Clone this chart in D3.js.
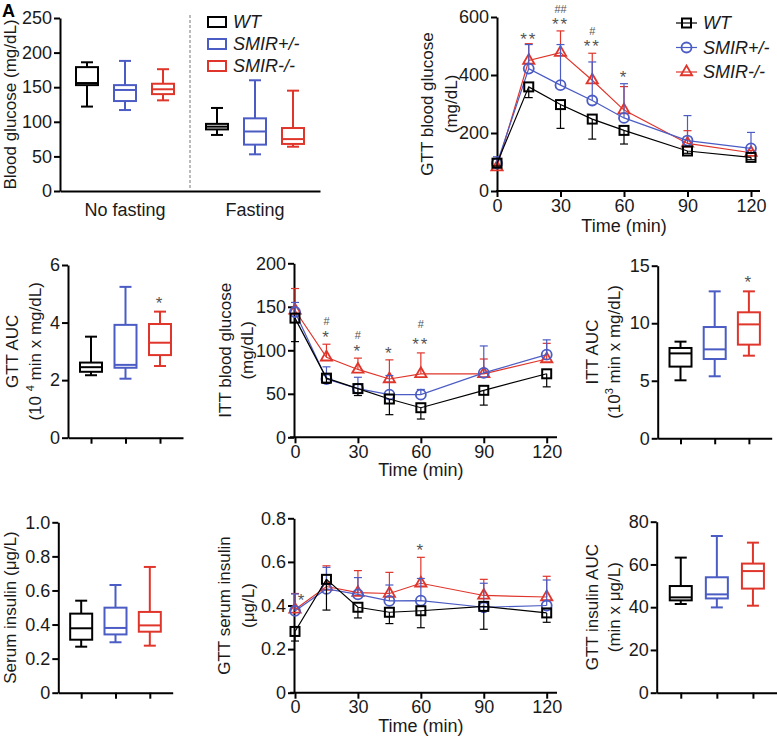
<!DOCTYPE html>
<html><head><meta charset="utf-8">
<script src="https://cdn.jsdelivr.net/npm/d3@7"></script>
<style>body{margin:0;background:#fff}</style>
</head><body><svg id="c" width="777" height="740"></svg>
<script>
// ---------------- DATA ----------------
const groups = ["WT", "SMIR+/-", "SMIR-/-"];
const conditions = ["No fasting", "Fasting"];
// box stats: [min, q1, median, q3, max]
const glucoseNoFasting = [[122,153,156,179,186],[117,130,146,153,188],[131,140,147,155,176]];
const glucoseFasting   = [[81,89,93,97,120],[53,67,86,105,160],[64,68,75,91,145]];
const gttAUC = [[2.17,2.29,2.45,2.61,3.51],[2.05,2.43,2.53,3.92,5.24],[2.49,2.87,3.30,3.95,4.38]];
const ittAUC = [[5.04,6.23,7.38,7.85,8.4],[5.39,6.89,7.73,9.67,12.77],[7.18,8.14,9.9,10.95,12.77]];
const serumInsulin = [[0.27,0.311,0.378,0.464,0.54],[0.296,0.342,0.38,0.499,0.632],[0.276,0.358,0.395,0.474,0.738]];
const insulinAUC = [[41.5,43.2,44.6,49.9,63.2],[39.9,44.1,46,54,73.3],[40.7,48.7,56.9,60.4,70.2]];

const timePoints = [0,15,30,45,60,90,120];
const timeTicks = [0,30,60,90,120];
// GTT blood glucose (mg/dL)
const gttWT  = [96,359,298,248,209,138,116];
const gttHet = [95,422,365,312,252,174,147];
const gttKO  = [82,450,477,382,279,164,132];
const gttWTerr  = [10,37,82,69,47,8,8];
const gttHetErr = [23,83,140,133,118,86,55];
const gttKOerr  = [5,58,75,93,81,44,8];
// ITT blood glucose (mg/dL)
const ittWT  = [137,68,56,44,34,54,73];
const ittHet = [144,67,56,49,49,74,95];
const ittKO  = [146,92,78,67,73,73,90];
const ittWTerr  = [27,6,8,18,13,17,15];
const ittHetErr = [11,14,13,22,6,31,17];
const ittKOerr  = [25,15,13,22,24,17,18];
// GTT serum insulin (ug/L)
const insWT  = [0.281,0.52,0.392,0.369,0.376,0.396,0.366];
const insHet = [0.375,0.476,0.451,0.421,0.422,0.392,0.40];
const insKO  = [0.382,0.487,0.459,0.455,0.502,0.446,0.439];
const insWTerr  = [0.044,0.141,0.049,0.052,0.078,0.105,0.043];
const insHetErr = [0.078,0.099,0.077,0.073,0.102,0.11,0.117];
const insKOerr  = [0.073,0.095,0.101,0.097,0.119,0.074,0.095];

// significance marks: time, label, value (center of mark, data units)
const gttMarks = [{t:15,s:"**",v:537},{t:30,s:"##",v:626},{t:30,s:"**",v:588},{t:45,s:"#",v:550},{t:45,s:"**",v:513},{t:60,s:"*",v:406}];
const ittMarks = [{t:15,s:"#",v:134},{t:15,s:"*",v:119},{t:30,s:"#",v:117},{t:30,s:"*",v:104},{t:45,s:"*",v:101},{t:60,s:"#",v:130},{t:60,s:"**",v:112}];
const insMarks = [{t:0,s:"*",v:0.444,dx:7},{t:60,s:"*",v:0.67}];

const glucoseTicks = [0,50,100,150,200,250];
const gttTicks = [0,200,400,600];
const gttAUCTicks = [0,2,4,6];
const ittTicks = [0,50,100,150,200];
const ittAUCTicks = [0,5,10,15];
const insulinTicks = [0,0.2,0.4,0.6,0.8,1.0];
const gttInsTicks = [0,0.2,0.4,0.6,0.8];
const insAUCTicks = [0,20,40,60,80];

// ---------------- STYLE ----------------
const FONT = "'Liberation Sans', Arial, Helvetica, sans-serif";
const FS = 17, TFS = 18;
const colors = ["#000000", "#4b5cc4", "#e0352b"];
const markGray = "#555";
const svg = d3.select("#c");

function styleAxis(g){
  g.attr("font-family", FONT).attr("font-size", TFS);
  g.selectAll(".domain").attr("stroke","#000").attr("stroke-width",2);
  g.selectAll(".tick line").attr("stroke","#000").attr("stroke-width",2);
  g.selectAll(".tick text").attr("fill","#1a1a1a");
}
const fmt1 = d => d === 0 ? "0" : d3.format(".1f")(d);

function yAxis(y, x0, ticks, f){
  const g = svg.append("g").attr("transform",`translate(${x0},0)`)
    .call(d3.axisLeft(y).tickValues(ticks).tickFormat(f || d3.format("d")).tickSize(6).tickSizeOuter(0).tickPadding(2));
  styleAxis(g);
  return g;
}
function yTitle(lines, cx, cy){
  lines.forEach((ln, i) => {
    const t = svg.append("text").attr("transform",`translate(${ln.x},${cy}) rotate(-90)`)
      .attr("text-anchor","middle").attr("font-family",FONT).attr("font-size",FS).attr("fill","#1a1a1a");
    ln.parts.forEach(p => {
      const s = t.append("tspan").text(p.text);
      if (p.sup) s.attr("font-size",11).attr("dy",-7);
      if (p.after) s.attr("dy",7);
    });
  });
}
function boxes(xPos, y, stats){
  const w = 22, cw = 12;
  stats.forEach((s,i) => {
    const cx = xPos(i);
    const g = svg.append("g").attr("stroke",colors[i]).attr("stroke-width",2).attr("fill","none");
    g.append("line").attr("x1",cx).attr("x2",cx).attr("y1",y(s[4])).attr("y2",y(s[3]));
    g.append("line").attr("x1",cx).attr("x2",cx).attr("y1",y(s[1])).attr("y2",y(s[0]));
    g.append("line").attr("x1",cx-cw/2).attr("x2",cx+cw/2).attr("y1",y(s[4])).attr("y2",y(s[4]));
    g.append("line").attr("x1",cx-cw/2).attr("x2",cx+cw/2).attr("y1",y(s[0])).attr("y2",y(s[0]));
    g.append("rect").attr("x",cx-w/2).attr("width",w).attr("y",y(s[3])).attr("height",y(s[1])-y(s[3]));
    g.append("line").attr("x1",cx-w/2).attr("x2",cx+w/2).attr("y1",y(s[2])).attr("y2",y(s[2]));
  });
}
function marker(g, i, cx, cy){
  const c = colors[i];
  if (i === 0) g.append("rect").attr("x",cx-4.5).attr("y",cy-4.5).attr("width",9).attr("height",9)
      .attr("fill","none").attr("stroke",c).attr("stroke-width",2);
  else if (i === 1) g.append("circle").attr("cx",cx).attr("cy",cy).attr("r",5)
      .attr("fill","none").attr("stroke",c).attr("stroke-width",1.8);
  else g.append("path").attr("d",d3.symbol(d3.symbolTriangle).size(55)()).attr("transform",`translate(${cx},${cy})`)
      .attr("fill","none").attr("stroke",c).attr("stroke-width",1.8);
}
function lineChart(x, y, series, errs){
  const order = [2,1,0];
  order.forEach(i => {
    const vals = series[i], e = errs[i], c = colors[i];
    const g = svg.append("g");
    const dir = i === 0 ? -1 : 1;
    vals.forEach((v,k) => {
      const cx = x(timePoints[k]), ye = y(v + dir*e[k]);
      g.append("line").attr("x1",cx).attr("x2",cx).attr("y1",y(v)).attr("y2",ye).attr("stroke",c).attr("stroke-width",1.2);
      g.append("line").attr("x1",cx-4).attr("x2",cx+4).attr("y1",ye).attr("y2",ye).attr("stroke",c).attr("stroke-width",1.2);
    });
    g.append("path").datum(vals).attr("fill","none").attr("stroke",c).attr("stroke-width",1.2)
      .attr("d", d3.line().x((d,k)=>x(timePoints[k])).y(d=>y(d)));
    vals.forEach((v,k) => marker(g, i, x(timePoints[k]), y(v)));
  });
}
function timeXAxis(x, y0, xStart, xEnd, titleOff){
  const g = svg.append("g").attr("transform",`translate(0,${y0})`)
    .call(d3.axisBottom(x).tickValues(timeTicks).tickFormat(d3.format("d")).tickSize(6).tickSizeOuter(0).tickPadding(2));
  styleAxis(g);
  g.select(".domain").remove();
  g.append("line").attr("x1",xStart).attr("x2",xEnd).attr("stroke","#000").attr("stroke-width",2);
  svg.append("text").attr("x",(x(0)+x(120))/2).attr("y",y0+titleOff).attr("text-anchor","middle")
    .attr("font-family",FONT).attr("font-size",TFS).attr("fill","#1a1a1a").text("Time (min)");
}
function catXAxis(xp, y0){
  const g = svg.append("g").attr("transform",`translate(0,${y0})`)
    .call(d3.axisBottom(xp).tickSize(6).tickSizeOuter(0).tickFormat(""));
  styleAxis(g);
}
function marks(x, y, list){
  list.forEach(m => {
    const isHash = m.s.includes("#");
    const fs = isHash ? 11 : 17;
    const off = isHash ? 0.36*fs : 0.57*fs;
    svg.append("text").attr("x", x(m.t) + (m.dx||0)).attr("y", y(m.v) + off)
      .attr("text-anchor","middle").attr("font-family",FONT).attr("font-size",fs)
      .attr("letter-spacing", isHash ? 0 : 2).attr("fill",markGray).text(m.s);
  });
}

// ---------------- Panel letter ----------------
svg.append("text").attr("x",2).attr("y",17).attr("font-family",FONT).attr("font-weight","bold").attr("font-size",18).text("A");

// ---------------- Panel 1: Blood glucose ----------------
{
  const y = d3.scaleLinear([0,250],[191,18]);
  const xb = d3.scaleBand(conditions,[60,320]);
  const inner = d3.scalePoint([0,1,2],[-38,38]);
  const g = svg.append("g").attr("transform","translate(0,191)")
    .call(d3.axisBottom(xb).tickSize(0).tickSizeOuter(0).tickPadding(12));
  styleAxis(g);
  yAxis(y, 60, glucoseTicks);
  svg.append("line").attr("x1",xb.range()[0] + xb.bandwidth()).attr("x2",xb.range()[0] + xb.bandwidth())
    .attr("y1",15).attr("y2",190).attr("stroke","#777").attr("stroke-width",1).attr("stroke-dasharray","3,2");
  boxes(i => xb("No fasting") + xb.bandwidth()/2 + inner(i), y, glucoseNoFasting);
  boxes(i => xb("Fasting") + xb.bandwidth()/2 + inner(i), y, glucoseFasting);
  yTitle([{x:16, parts:[{text:"Blood glucose (mg/dL)"}]}], 0, (y(0)+y(250))/2);
  groups.forEach((gname,i) => {
    const ly = 22 + i*22;
    svg.append("rect").attr("x",208).attr("y",ly-5).attr("width",18).attr("height",10)
      .attr("fill","none").attr("stroke",colors[i]).attr("stroke-width",2);
    svg.append("text").attr("x",233).attr("y",ly+6).attr("font-family",FONT).attr("font-size",TFS)
      .attr("font-style","italic").attr("fill","#1a1a1a").text(gname);
  });
}

// ---------------- Panel 2: GTT blood glucose ----------------
{
  const x = d3.scaleLinear([0,120],[497,751]);
  const y = d3.scaleLinear([0,600],[191,17]);
  yAxis(y, 497, gttTicks);
  timeXAxis(x, 191, 496, 760, 41);
  lineChart(x, y, [gttWT,gttHet,gttKO], [gttWTerr,gttHetErr,gttKOerr]);
  marks(x, y, gttMarks);
  yTitle([{x:433, parts:[{text:"GTT blood glucose"}]},{x:457, parts:[{text:"(mg/dL)"}]}], 0, (y(0)+y(600))/2);
  groups.forEach((gname,i) => {
    const ly = 23 + i*24.5;
    const lg = svg.append("g");
    lg.append("line").attr("x1",676).attr("x2",697).attr("y1",ly).attr("y2",ly).attr("stroke",colors[i]).attr("stroke-width",1.2);
    marker(lg, i, 686.5, ly);
    svg.append("text").attr("x",703).attr("y",ly+6).attr("font-family",FONT).attr("font-size",TFS)
      .attr("font-style","italic").attr("fill","#1a1a1a").text(gname);
  });
}

// ---------------- Panel 3: GTT AUC ----------------
{
  const y = d3.scaleLinear([0,6],[437.7,265]);
  const xp = d3.scalePoint([0,1,2],[68,183]).padding(0.667);
  catXAxis(xp, 437.7);
  yAxis(y, 68, gttAUCTicks);
  boxes(xp, y, gttAUC);
  marks(d => xp(d), y, [{t:2,s:"*",v:4.82}]);
  yTitle([{x:18, parts:[{text:"GTT AUC"}]},
          {x:41, parts:[{text:"(10 "},{text:"4",sup:true},{text:" min x mg/dL)",after:true}]}], 0, (y(0)+y(6))/2);
}

// ---------------- Panel 4: ITT blood glucose ----------------
{
  const x = d3.scaleLinear([0,120],[295,546.7]);
  const y = d3.scaleLinear([0,200],[437.3,263.3]);
  yAxis(y, 294, ittTicks);
  timeXAxis(x, 437.3, 290, 557, 39);
  lineChart(x, y, [ittWT,ittHet,ittKO], [ittWTerr,ittHetErr,ittKOerr]);
  marks(x, y, ittMarks);
  yTitle([{x:231, parts:[{text:"ITT blood glucose"}]},{x:253, parts:[{text:"(mg/dL)"}]}], 0, (y(0)+y(200))/2);
}

// ---------------- Panel 5: ITT AUC ----------------
{
  const y = d3.scaleLinear([0,15],[438.3,265.7]);
  const xp = d3.scalePoint([0,1,2],[657.7,771.7]).padding(0.667);
  catXAxis(xp, 438.3);
  yAxis(y, 657.7, ittAUCTicks);
  boxes(xp, y, ittAUC);
  marks(d => xp(d), y, [{t:2,s:"*",v:13.9}]);
  yTitle([{x:598, parts:[{text:"ITT AUC"}]},
          {x:620, parts:[{text:"(10"},{text:"3",sup:true},{text:" min x mg/dL)",after:true}]}], 0, (y(0)+y(15))/2);
}

// ---------------- Panel 6: Serum insulin ----------------
{
  const y = d3.scaleLinear([0,1],[692.7,522.3]);
  const xp = d3.scalePoint([0,1,2],[58.3,172.7]).padding(0.667);
  catXAxis(xp, 692.7);
  yAxis(y, 58.3, insulinTicks, fmt1);
  boxes(xp, y, serumInsulin);
  yTitle([{x:16, parts:[{text:"Serum insulin (μg/L)"}]}], 0, (y(0)+y(1))/2);
}

// ---------------- Panel 7: GTT serum insulin ----------------
{
  const x = d3.scaleLinear([0,120],[295,546.7]);
  const y = d3.scaleLinear([0,0.8],[692.7,518.3]);
  yAxis(y, 294, gttInsTicks, fmt1);
  timeXAxis(x, 692.7, 290, 557, 39);
  lineChart(x, y, [insWT,insHet,insKO], [insWTerr,insHetErr,insKOerr]);
  marks(x, y, insMarks);
  yTitle([{x:230, parts:[{text:"GTT serum insulin"}]},{x:254, parts:[{text:"(μg/L)"}]}], 0, (y(0)+y(0.8))/2);
}

// ---------------- Panel 8: GTT insulin AUC ----------------
{
  const y = d3.scaleLinear([0,80],[692.7,521.7]);
  const xp = d3.scalePoint([0,1,2],[656.7,777]).padding(0.667);
  catXAxis(xp, 692.7);
  yAxis(y, 656.7, insAUCTicks);
  boxes(xp, y, insulinAUC);
  yTitle([{x:598, parts:[{text:"GTT insulin AUC"}]},{x:620, parts:[{text:"(min x μg/L)"}]}], 0, (y(0)+y(80))/2);
}
</script></body></html>
